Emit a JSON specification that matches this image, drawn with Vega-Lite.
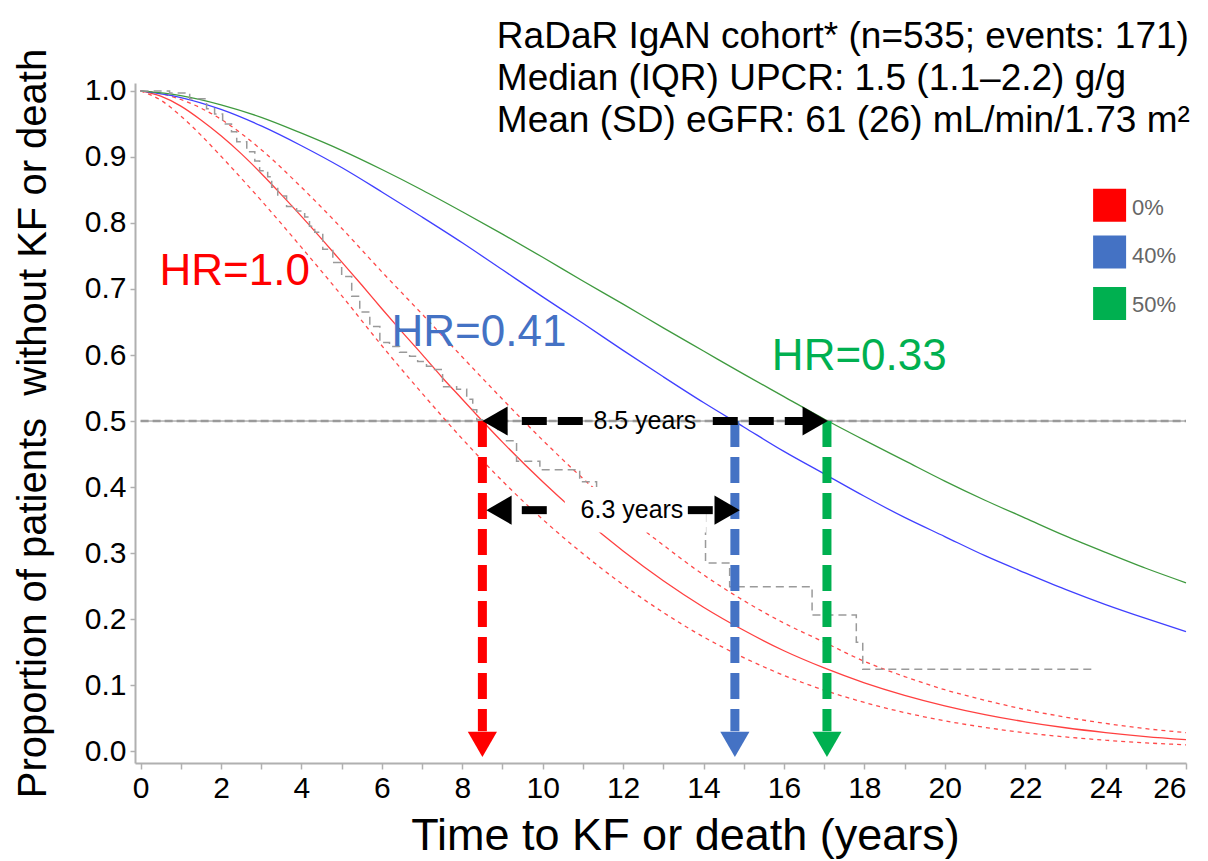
{
  "$schema": "https://vega.github.io/schema/vega-lite/v6.json",
  "width": 1051,
  "height": 680,
  "autosize": {"type": "none"},
  "padding": {"left": 135, "top": 83, "right": 22, "bottom": 98},
  "background": "white",
  "resolve": {"scale": {"color": "independent"}},
  "config": {
    "view": {"stroke": null},
    "font": "Liberation Sans",
    "axis": {"grid": false, "labelFont": "Liberation Sans", "titleFont": "Liberation Sans", "labelColor": "black", "titleColor": "black", "titleFontWeight": "normal", "domainColor": "#b0b0b0", "domainWidth": 2, "tickColor": "#b0b0b0", "tickWidth": 1.5}
  },
  "datasets": {
    "curves": [
      {"t": 0, "s": 1, "g": "0%"}, {"t": 0.5, "s": 0.992, "g": "0%"}, {"t": 1, "s": 0.977, "g": "0%"}, {"t": 1.5, "s": 0.956, "g": "0%"}, {"t": 2, "s": 0.932, "g": "0%"}, {"t": 2.5, "s": 0.905, "g": "0%"}, {"t": 3, "s": 0.875, "g": "0%"}, {"t": 3.5, "s": 0.843, "g": "0%"}, {"t": 4, "s": 0.81, "g": "0%"}, {"t": 4.5, "s": 0.776, "g": "0%"}, {"t": 5, "s": 0.741, "g": "0%"}, {"t": 5.5, "s": 0.706, "g": "0%"}, {"t": 6, "s": 0.67, "g": "0%"}, {"t": 6.5, "s": 0.635, "g": "0%"}, {"t": 7, "s": 0.601, "g": "0%"}, {"t": 7.5, "s": 0.566, "g": "0%"}, {"t": 8, "s": 0.533, "g": "0%"}, {"t": 8.5, "s": 0.5, "g": "0%"}, {"t": 9, "s": 0.468, "g": "0%"}, {"t": 10, "s": 0.408, "g": "0%"}, {"t": 11, "s": 0.353, "g": "0%"}, {"t": 12, "s": 0.303, "g": "0%"}, {"t": 13, "s": 0.258, "g": "0%"}, {"t": 14, "s": 0.218, "g": "0%"}, {"t": 15, "s": 0.183, "g": "0%"}, {"t": 16, "s": 0.152, "g": "0%"}, {"t": 17, "s": 0.126, "g": "0%"}, {"t": 18, "s": 0.1035, "g": "0%"}, {"t": 19, "s": 0.0846, "g": "0%"}, {"t": 20, "s": 0.0687, "g": "0%"}, {"t": 21, "s": 0.0554, "g": "0%"}, {"t": 22, "s": 0.0444, "g": "0%"}, {"t": 23, "s": 0.0354, "g": "0%"}, {"t": 24, "s": 0.0281, "g": "0%"}, {"t": 25, "s": 0.0221, "g": "0%"}, {"t": 26, "s": 0.0174, "g": "0%"},
      {"t": 0, "s": 1, "g": "40%"}, {"t": 1, "s": 0.99, "g": "40%"}, {"t": 2, "s": 0.972, "g": "40%"}, {"t": 3, "s": 0.947, "g": "40%"}, {"t": 4, "s": 0.917, "g": "40%"}, {"t": 5, "s": 0.884, "g": "40%"}, {"t": 6, "s": 0.847, "g": "40%"}, {"t": 7, "s": 0.809, "g": "40%"}, {"t": 8, "s": 0.77, "g": "40%"}, {"t": 9, "s": 0.729, "g": "40%"}, {"t": 10, "s": 0.688, "g": "40%"}, {"t": 11, "s": 0.648, "g": "40%"}, {"t": 12, "s": 0.607, "g": "40%"}, {"t": 13, "s": 0.567, "g": "40%"}, {"t": 14, "s": 0.528, "g": "40%"}, {"t": 15, "s": 0.491, "g": "40%"}, {"t": 16, "s": 0.454, "g": "40%"}, {"t": 17, "s": 0.42, "g": "40%"}, {"t": 18, "s": 0.386, "g": "40%"}, {"t": 19, "s": 0.354, "g": "40%"}, {"t": 20, "s": 0.325, "g": "40%"}, {"t": 21, "s": 0.296, "g": "40%"}, {"t": 22, "s": 0.27, "g": "40%"}, {"t": 23, "s": 0.245, "g": "40%"}, {"t": 24, "s": 0.222, "g": "40%"}, {"t": 25, "s": 0.201, "g": "40%"}, {"t": 26, "s": 0.181, "g": "40%"},
      {"t": 0, "s": 1, "g": "50%"}, {"t": 1, "s": 0.993, "g": "50%"}, {"t": 2, "s": 0.979, "g": "50%"}, {"t": 3, "s": 0.96, "g": "50%"}, {"t": 4, "s": 0.936, "g": "50%"}, {"t": 5, "s": 0.91, "g": "50%"}, {"t": 6, "s": 0.881, "g": "50%"}, {"t": 7, "s": 0.85, "g": "50%"}, {"t": 8, "s": 0.817, "g": "50%"}, {"t": 9, "s": 0.783, "g": "50%"}, {"t": 10, "s": 0.748, "g": "50%"}, {"t": 11, "s": 0.712, "g": "50%"}, {"t": 12, "s": 0.677, "g": "50%"}, {"t": 13, "s": 0.641, "g": "50%"}, {"t": 14, "s": 0.606, "g": "50%"}, {"t": 15, "s": 0.571, "g": "50%"}, {"t": 16, "s": 0.537, "g": "50%"}, {"t": 17, "s": 0.503, "g": "50%"}, {"t": 18, "s": 0.471, "g": "50%"}, {"t": 19, "s": 0.44, "g": "50%"}, {"t": 20, "s": 0.409, "g": "50%"}, {"t": 21, "s": 0.38, "g": "50%"}, {"t": 22, "s": 0.353, "g": "50%"}, {"t": 23, "s": 0.326, "g": "50%"}, {"t": 24, "s": 0.301, "g": "50%"}, {"t": 25, "s": 0.277, "g": "50%"}, {"t": 26, "s": 0.255, "g": "50%"},
      {"t": 0, "s": 1, "g": "upper"}, {"t": 0.5, "s": 0.996, "g": "upper"}, {"t": 1, "s": 0.987, "g": "upper"}, {"t": 1.5, "s": 0.974, "g": "upper"}, {"t": 2, "s": 0.957, "g": "upper"}, {"t": 3, "s": 0.911, "g": "upper"}, {"t": 4, "s": 0.854, "g": "upper"}, {"t": 5, "s": 0.792, "g": "upper"}, {"t": 6, "s": 0.726, "g": "upper"}, {"t": 7, "s": 0.662, "g": "upper"}, {"t": 8, "s": 0.597, "g": "upper"}, {"t": 9, "s": 0.533, "g": "upper"}, {"t": 10, "s": 0.471, "g": "upper"}, {"t": 11, "s": 0.413, "g": "upper"}, {"t": 12, "s": 0.36, "g": "upper"}, {"t": 13, "s": 0.312, "g": "upper"}, {"t": 14, "s": 0.267, "g": "upper"}, {"t": 15, "s": 0.228, "g": "upper"}, {"t": 16, "s": 0.194, "g": "upper"}, {"t": 17, "s": 0.165, "g": "upper"}, {"t": 18, "s": 0.136, "g": "upper"}, {"t": 19, "s": 0.113, "g": "upper"}, {"t": 20, "s": 0.093, "g": "upper"}, {"t": 21, "s": 0.077, "g": "upper"}, {"t": 22, "s": 0.063, "g": "upper"}, {"t": 23, "s": 0.0515, "g": "upper"}, {"t": 24, "s": 0.042, "g": "upper"}, {"t": 25, "s": 0.034, "g": "upper"}, {"t": 26, "s": 0.028, "g": "upper"},
      {"t": 0, "s": 1, "g": "lower"}, {"t": 0.5, "s": 0.986, "g": "lower"}, {"t": 1, "s": 0.962, "g": "lower"}, {"t": 1.5, "s": 0.933, "g": "lower"}, {"t": 2, "s": 0.901, "g": "lower"}, {"t": 3, "s": 0.834, "g": "lower"}, {"t": 4, "s": 0.763, "g": "lower"}, {"t": 5, "s": 0.69, "g": "lower"}, {"t": 6, "s": 0.614, "g": "lower"}, {"t": 7, "s": 0.542, "g": "lower"}, {"t": 8, "s": 0.473, "g": "lower"}, {"t": 9, "s": 0.409, "g": "lower"}, {"t": 10, "s": 0.351, "g": "lower"}, {"t": 11, "s": 0.299, "g": "lower"}, {"t": 12, "s": 0.252, "g": "lower"}, {"t": 13, "s": 0.21, "g": "lower"}, {"t": 14, "s": 0.173, "g": "lower"}, {"t": 15, "s": 0.1416, "g": "lower"}, {"t": 16, "s": 0.1147, "g": "lower"}, {"t": 17, "s": 0.0923, "g": "lower"}, {"t": 18, "s": 0.0737, "g": "lower"}, {"t": 19, "s": 0.0584, "g": "lower"}, {"t": 20, "s": 0.0459, "g": "lower"}, {"t": 21, "s": 0.0359, "g": "lower"}, {"t": 22, "s": 0.0278, "g": "lower"}, {"t": 23, "s": 0.0215, "g": "lower"}, {"t": 24, "s": 0.0165, "g": "lower"}, {"t": 25, "s": 0.0125, "g": "lower"}, {"t": 26, "s": 0.0095, "g": "lower"}
    ],
    "km": [
      {"t": 0, "s": 1}, {"t": 0.72, "s": 0.997}, {"t": 1.22, "s": 0.988}, {"t": 1.64, "s": 0.973}, {"t": 1.84, "s": 0.965}, {"t": 2.04, "s": 0.95}, {"t": 2.26, "s": 0.938}, {"t": 2.39, "s": 0.923}, {"t": 2.64, "s": 0.908}, {"t": 2.84, "s": 0.894}, {"t": 2.96, "s": 0.879}, {"t": 3.16, "s": 0.87}, {"t": 3.26, "s": 0.854}, {"t": 3.41, "s": 0.841}, {"t": 3.63, "s": 0.825}, {"t": 3.88, "s": 0.818}, {"t": 4.08, "s": 0.809}, {"t": 4.2, "s": 0.795}, {"t": 4.33, "s": 0.786}, {"t": 4.53, "s": 0.76}, {"t": 4.78, "s": 0.74}, {"t": 5.0, "s": 0.719}, {"t": 5.25, "s": 0.689}, {"t": 5.45, "s": 0.665}, {"t": 5.7, "s": 0.643}, {"t": 5.95, "s": 0.619}, {"t": 6.19, "s": 0.613}, {"t": 6.44, "s": 0.604}, {"t": 6.69, "s": 0.598}, {"t": 6.89, "s": 0.59}, {"t": 7.11, "s": 0.583}, {"t": 7.31, "s": 0.578}, {"t": 7.51, "s": 0.552}, {"t": 7.86, "s": 0.548}, {"t": 8.11, "s": 0.533}, {"t": 8.26, "s": 0.517}, {"t": 8.36, "s": 0.502}, {"t": 8.68, "s": 0.495}, {"t": 8.88, "s": 0.487}, {"t": 9.1, "s": 0.47}, {"t": 9.35, "s": 0.439}, {"t": 9.93, "s": 0.426}, {"t": 10.92, "s": 0.408}, {"t": 11.34, "s": 0.37}, {"t": 14.05, "s": 0.285}, {"t": 14.65, "s": 0.249}, {"t": 16.7, "s": 0.206}, {"t": 17.8, "s": 0.165}, {"t": 17.96, "s": 0.124}, {"t": 23.66, "s": 0.124}
    ],
    "ref": [{"x": 0, "x2": 26, "y": 0.5}],
    "box": [{"x": 10.55, "x2": 14.06, "y": 0.331, "y2": 0.4}],
    "vshaft": [
      {"x": 8.5, "y": 0.5, "y2": 0.03, "c": "0%"},
      {"x": 14.78, "y": 0.5, "y2": 0.03, "c": "40%"},
      {"x": 17.07, "y": 0.5, "y2": 0.03, "c": "50%"}
    ],
    "vhead": [
      {"x": 8.5, "y": -0.009, "c": "0%"},
      {"x": 14.78, "y": -0.009, "c": "40%"},
      {"x": 17.07, "y": -0.009, "c": "50%"}
    ],
    "hshaft": [
      {"x": 9.48, "x2": 11.05, "y": 0.5},
      {"x": 14.23, "x2": 16.59, "y": 0.5},
      {"x": 9.48, "x2": 10.12, "y": 0.365},
      {"x": 13.61, "x2": 14.23, "y": 0.365}
    ],
    "lhead": [{"x": 8.5, "y": 0.5}, {"x": 8.6, "y": 0.365}],
    "rhead": [{"x": 17.09, "y": 0.5}, {"x": 14.9, "y": 0.365}],
    "years": [{"x": 12.54, "y": 0.5, "label": "8.5 years"}, {"x": 12.22, "y": 0.365, "label": "6.3 years"}],
    "hr": [
      {"x": 0.47, "y": 0.726, "label": "HR=1.0", "c": "0%"},
      {"x": 6.24, "y": 0.633, "label": "HR=0.41", "c": "40%"},
      {"x": 15.7, "y": 0.597, "label": "HR=0.33", "c": "50%"}
    ],
    "info": [
      {"x": 8.86, "y": 1.082, "label": "RaDaR IgAN cohort* (n=535; events: 171)"},
      {"x": 8.86, "y": 1.018, "label": "Median (IQR) UPCR: 1.5 (1.1–2.2) g/g"},
      {"x": 8.86, "y": 0.954, "label": "Mean (SD) eGFR: 61 (26) mL/min/1.73 m²"}
    ],
    "legend": [
      {"x": 24.1, "y": 0.827, "lx": 24.66, "ly": 0.823, "c": "0%"},
      {"x": 24.1, "y": 0.756, "lx": 24.66, "ly": 0.75, "c": "40%"},
      {"x": 24.1, "y": 0.678, "lx": 24.66, "ly": 0.676, "c": "50%"}
    ]
  },
  "layer": [
    {
      "data": {"name": "ref"},
      "mark": {"type": "rule", "color": "#8a8a8a", "strokeWidth": 1},
      "encoding": {
        "x": {"field": "x", "type": "quantitative", "scale": {"domain": [-0.14, 26], "nice": false, "zero": false},
          "axis": {"values": [0,1,2,3,4,5,6,7,8,9,10,11,12,13,14,15,16,17,18,19,20,21,22,23,24,25,26], "labelExpr": "datum.value % 2 == 0 ? datum.label : ''", "labelFontSize": 30, "labelPadding": 4, "tickSize": 6, "title": "Time to KF or death (years)", "titleFontSize": 45, "titlePadding": 10, "titleX": 550}},
        "x2": {"field": "x2"},
        "y": {"field": "y", "type": "quantitative", "scale": {"domain": [-0.018, 1.012], "nice": false, "zero": false},
          "axis": {"values": [0,0.05,0.1,0.15,0.2,0.25,0.3,0.35,0.4,0.45,0.5,0.55,0.6,0.65,0.7,0.75,0.8,0.85,0.9,0.95,1], "labelExpr": "round(datum.value*100) % 10 == 0 ? format(datum.value, '.1f') : ''", "labelFontSize": 30, "labelPadding": 4, "tickSize": 5, "title": "Proportion of patients\u00a0 without KF or death", "titleFontSize": 40, "titlePadding": 31}}
      }
    },
    {
      "data": {"name": "ref"},
      "mark": {"type": "rule", "color": "#9a9a9a", "strokeWidth": 2.5, "strokeDash": [8, 4]},
      "encoding": {"x": {"field": "x", "type": "quantitative"}, "x2": {"field": "x2"}, "y": {"field": "y", "type": "quantitative"}}
    },
    {
      "data": {"name": "curves"},
      "transform": [{"filter": "datum.g == 'upper' || datum.g == 'lower'"}],
      "mark": {"type": "line", "color": "#ff4a4a", "strokeWidth": 1.3, "strokeDash": [4, 4], "interpolate": "monotone"},
      "encoding": {"x": {"field": "t", "type": "quantitative"}, "y": {"field": "s", "type": "quantitative"}, "detail": {"field": "g"}}
    },
    {
      "data": {"name": "curves"},
      "transform": [{"filter": "datum.g == '0%' || datum.g == '40%' || datum.g == '50%'"}],
      "mark": {"type": "line", "strokeWidth": 1.3, "interpolate": "monotone"},
      "encoding": {
        "x": {"field": "t", "type": "quantitative"},
        "y": {"field": "s", "type": "quantitative"},
        "color": {"field": "g", "type": "nominal", "scale": {"domain": ["0%", "40%", "50%"], "range": ["#ff4040", "#4040ff", "#3f9a3f"]}, "legend": null}
      }
    },
    {
      "data": {"name": "km"},
      "mark": {"type": "line", "color": "#9a9a9a", "strokeWidth": 1.5, "strokeDash": [8, 5], "interpolate": "step-after"},
      "encoding": {"x": {"field": "t", "type": "quantitative"}, "y": {"field": "s", "type": "quantitative"}}
    },
    {
      "data": {"name": "box"},
      "mark": {"type": "rect", "color": "white"},
      "encoding": {"x": {"field": "x", "type": "quantitative"}, "x2": {"field": "x2"}, "y": {"field": "y", "type": "quantitative"}, "y2": {"field": "y2"}}
    },
    {
      "data": {"name": "vshaft"},
      "mark": {"type": "rule", "strokeWidth": 9, "strokeDash": [26, 10], "strokeCap": "butt"},
      "encoding": {
        "x": {"field": "x", "type": "quantitative"}, "y": {"field": "y", "type": "quantitative"}, "y2": {"field": "y2"},
        "color": {"field": "c", "type": "nominal", "scale": {"domain": ["0%", "40%", "50%"], "range": ["#ff0000", "#4472c4", "#00b050"]}, "legend": null}
      }
    },
    {
      "data": {"name": "vhead"},
      "mark": {"type": "point", "shape": "triangle-down", "filled": true, "size": 850, "opacity": 1, "yOffset": -12.6},
      "encoding": {
        "x": {"field": "x", "type": "quantitative"}, "y": {"field": "y", "type": "quantitative"},
        "color": {"field": "c", "type": "nominal", "scale": {"domain": ["0%", "40%", "50%"], "range": ["#ff0000", "#4472c4", "#00b050"]}, "legend": null}
      }
    },
    {
      "data": {"name": "hshaft"},
      "mark": {"type": "rule", "color": "black", "strokeWidth": 8, "strokeDash": [25, 11]},
      "encoding": {"x": {"field": "x", "type": "quantitative"}, "x2": {"field": "x2"}, "y": {"field": "y", "type": "quantitative"}}
    },
    {
      "data": {"name": "lhead"},
      "mark": {"type": "point", "shape": "triangle-left", "filled": true, "size": 850, "opacity": 1, "color": "black", "xOffset": 12.6},
      "encoding": {"x": {"field": "x", "type": "quantitative"}, "y": {"field": "y", "type": "quantitative"}}
    },
    {
      "data": {"name": "rhead"},
      "mark": {"type": "point", "shape": "triangle-right", "filled": true, "size": 850, "opacity": 1, "color": "black", "xOffset": -12.6},
      "encoding": {"x": {"field": "x", "type": "quantitative"}, "y": {"field": "y", "type": "quantitative"}}
    },
    {
      "data": {"name": "years"},
      "mark": {"type": "text", "fontSize": 25, "color": "black", "align": "center", "baseline": "middle"},
      "encoding": {"x": {"field": "x", "type": "quantitative"}, "y": {"field": "y", "type": "quantitative"}, "text": {"field": "label"}}
    },
    {
      "data": {"name": "hr"},
      "mark": {"type": "text", "fontSize": 44, "align": "left", "baseline": "middle"},
      "encoding": {
        "x": {"field": "x", "type": "quantitative"}, "y": {"field": "y", "type": "quantitative"}, "text": {"field": "label"},
        "color": {"field": "c", "type": "nominal", "scale": {"domain": ["0%", "40%", "50%"], "range": ["#ff0000", "#4472c4", "#00b050"]}, "legend": null}
      }
    },
    {
      "data": {"name": "info"},
      "mark": {"type": "text", "fontSize": 37, "color": "black", "align": "left", "baseline": "middle"},
      "encoding": {"x": {"field": "x", "type": "quantitative"}, "y": {"field": "y", "type": "quantitative"}, "text": {"field": "label"}}
    },
    {
      "data": {"name": "legend"},
      "mark": {"type": "point", "shape": "square", "filled": true, "size": 1089, "opacity": 1},
      "encoding": {
        "x": {"field": "x", "type": "quantitative"}, "y": {"field": "y", "type": "quantitative"},
        "color": {"field": "c", "type": "nominal", "scale": {"domain": ["0%", "40%", "50%"], "range": ["#ff0000", "#4472c4", "#00b050"]}, "legend": null}
      }
    },
    {
      "data": {"name": "legend"},
      "mark": {"type": "text", "fontSize": 22, "color": "#666666", "align": "left", "baseline": "middle"},
      "encoding": {"x": {"field": "lx", "type": "quantitative"}, "y": {"field": "ly", "type": "quantitative"}, "text": {"field": "c"}}
    }
  ]
}
